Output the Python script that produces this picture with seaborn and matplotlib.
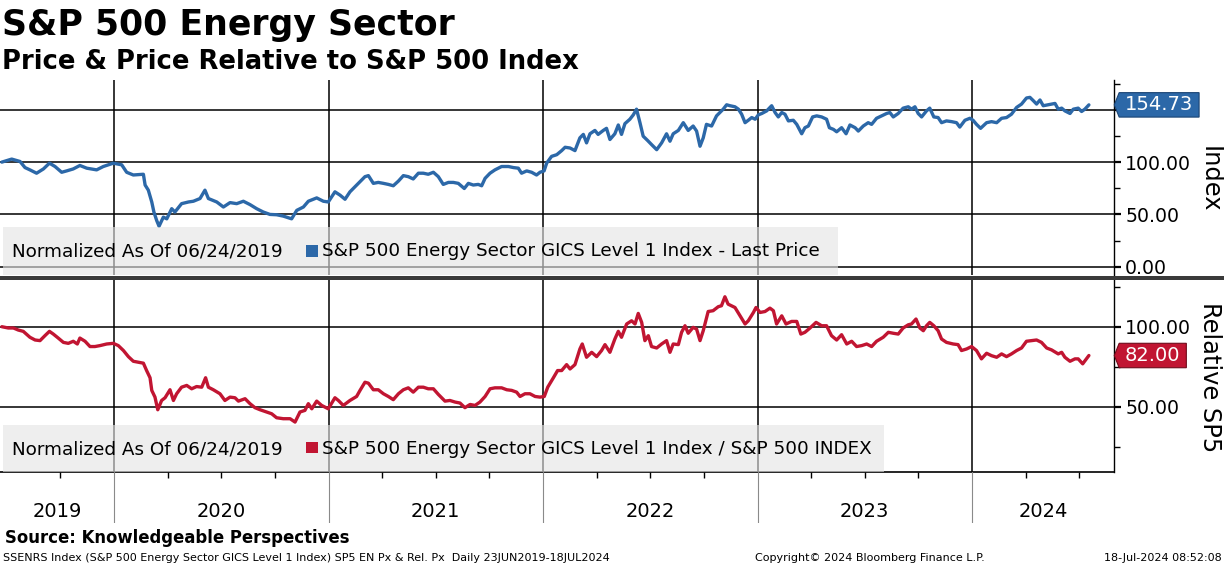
import matplotlib
matplotlib.use("Agg")
import matplotlib.pyplot as plt
from matplotlib.patches import Rectangle
from matplotlib.path import Path
from matplotlib.ticker import FixedLocator, FuncFormatter
import numpy as np
import pandas as pd
import seaborn as sns

# price series, normalized to 100 on 06/24/2019 (x in decimal years)
top_years = [
    2019.477, 2019.523, 2019.562, 2019.585, 2019.608, 2019.639, 2019.671, 2019.699, 2019.725, 2019.756,
    2019.779, 2019.810, 2019.841, 2019.873, 2019.919, 2019.950, 2019.997, 2020.036, 2020.059, 2020.090,
    2020.137, 2020.145, 2020.160, 2020.176, 2020.186, 2020.199, 2020.210, 2020.230, 2020.246, 2020.269,
    2020.284, 2020.315, 2020.347, 2020.370, 2020.401, 2020.424, 2020.440, 2020.479, 2020.510, 2020.541,
    2020.572, 2020.603, 2020.634, 2020.665, 2020.696, 2020.727, 2020.758, 2020.789, 2020.828, 2020.852,
    2020.883, 2020.906, 2020.945, 2020.976, 2020.999, 2021.030, 2021.054, 2021.077, 2021.100, 2021.139,
    2021.170,
    2021.186, 2021.209, 2021.232, 2021.256, 2021.279, 2021.302, 2021.326, 2021.349, 2021.372, 2021.395,
    2021.419, 2021.442, 2021.465, 2021.489, 2021.512, 2021.535, 2021.559, 2021.582, 2021.605, 2021.633,
    2021.652, 2021.675, 2021.698, 2021.714, 2021.730, 2021.753, 2021.776, 2021.807, 2021.839, 2021.862,
    2021.885, 2021.900, 2021.924, 2021.947, 2021.970, 2021.986, 2022.005, 2022.017, 2022.040, 2022.064,
    2022.087, 2022.103, 2022.126, 2022.149, 2022.172, 2022.188, 2022.203, 2022.219, 2022.242, 2022.257,
    2022.281, 2022.296, 2022.312, 2022.335, 2022.351, 2022.366, 2022.382, 2022.405, 2022.421, 2022.436,
    2022.452, 2022.467, 2022.488, 2022.506, 2022.530, 2022.553, 2022.576, 2022.592, 2022.607, 2022.631,
    2022.654, 2022.677, 2022.700, 2022.716, 2022.732, 2022.747, 2022.762, 2022.786, 2022.809, 2022.840,
    2022.856,
    2022.872, 2022.895, 2022.911, 2022.926, 2022.942, 2022.957, 2022.973, 2022.989, 2023.004, 2023.020,
    2023.043, 2023.066, 2023.082, 2023.097, 2023.113, 2023.128, 2023.144, 2023.167, 2023.183, 2023.206,
    2023.221, 2023.237, 2023.257, 2023.276, 2023.299, 2023.322, 2023.335, 2023.354, 2023.369, 2023.392,
    2023.413, 2023.431, 2023.455, 2023.470, 2023.493, 2023.516, 2023.532, 2023.555, 2023.579, 2023.602,
    2023.617, 2023.633, 2023.656, 2023.679, 2023.703, 2023.718, 2023.734, 2023.749, 2023.765, 2023.788,
    2023.803, 2023.822, 2023.842, 2023.858, 2023.881, 2023.905, 2023.928, 2023.943, 2023.967, 2023.990,
    2024.005, 2024.021, 2024.040, 2024.068, 2024.091, 2024.115, 2024.138, 2024.161, 2024.184, 2024.208,
    2024.231, 2024.254, 2024.270, 2024.286, 2024.301, 2024.317, 2024.332, 2024.355, 2024.371, 2024.387,
    2024.402, 2024.418, 2024.433, 2024.457, 2024.472, 2024.495, 2024.511, 2024.526, 2024.545,
]
top_vals = [
    100.0, 102.9, 100.6, 94.8, 92.6, 89.4, 93.5, 99.0, 95.8, 90.3,
    91.6, 93.5, 96.8, 94.2, 92.6, 95.8, 99.0, 97.4, 90.3, 87.7,
    88.4, 78.1, 73.2, 61.9, 52.3, 44.2, 38.7, 47.4, 45.8, 55.5,
    52.3, 60.3, 61.9, 62.6, 65.2, 73.2, 65.2, 61.9, 57.1, 61.3,
    60.3, 62.6, 59.4, 55.5, 52.3, 50.0, 49.7, 48.4, 45.8, 53.9,
    57.1, 62.6, 65.8, 62.6, 61.9, 71.6, 68.4, 64.5, 71.6, 79.7,
    86.1,
    87.1, 79.7, 80.6, 79.7, 78.7, 77.4, 81.9, 87.1, 86.1, 83.9,
    89.4, 89.4, 88.4, 90.3, 86.1, 78.7, 80.6, 80.6, 79.7, 74.8,
    79.7, 78.1, 78.7, 77.4, 84.5, 89.4, 92.6, 95.8, 95.8, 94.8,
    94.2, 89.4, 91.6, 90.3, 87.7, 90.3, 91.6, 99.0, 105.5, 107.1,
    111.0, 114.2, 113.5, 111.0, 123.2, 126.5, 118.4, 127.1, 130.3, 126.5,
    130.3, 132.3, 121.6, 127.1, 135.5, 126.5, 136.8, 141.0, 145.2, 150.6,
    137.7, 124.8, 120.6, 116.8, 111.9, 118.4, 127.1, 120.0, 127.1, 130.3,
    137.7, 130.3, 134.5, 129.7, 115.2, 123.2, 136.1, 134.5, 144.2, 150.6,
    154.8,
    153.9, 152.9, 150.6, 145.8, 137.7, 140.0, 142.6, 141.0, 145.2, 146.5,
    149.0, 153.9, 147.4, 143.2, 147.4, 145.8, 139.4, 140.0, 136.1, 127.1,
    132.9, 134.5, 143.2, 144.2, 143.2, 141.0, 132.9, 131.3, 129.0, 132.9,
    127.1, 135.5, 132.9, 129.7, 134.5, 137.7, 136.1, 141.9, 144.2, 146.5,
    147.4, 143.2, 146.5, 151.6, 152.9, 150.6, 152.9, 146.5, 143.2, 149.0,
    151.6, 143.2, 142.6, 137.7, 139.4, 138.7, 137.7, 133.5, 140.0, 141.9,
    140.0, 136.1, 132.3, 137.7, 138.7, 137.7, 141.9, 142.6, 145.8, 152.3,
    155.5, 161.3, 161.9, 158.7, 155.5, 159.4, 153.9, 154.8, 155.5, 156.1,
    150.6, 151.6, 149.0, 146.5, 150.6, 151.6, 148.4, 150.6, 154.73,
]

# price relative to S&P 500
rel_years = [
    2019.477, 2019.507, 2019.531, 2019.554, 2019.577, 2019.608, 2019.632, 2019.655, 2019.678, 2019.699,
    2019.717, 2019.740, 2019.764, 2019.787, 2019.810, 2019.829, 2019.841, 2019.865, 2019.888, 2019.911,
    2019.935, 2019.966, 2019.997, 2020.020, 2020.044, 2020.067, 2020.090, 2020.113, 2020.137, 2020.152,
    2020.168, 2020.176, 2020.191, 2020.204, 2020.222, 2020.238, 2020.261, 2020.277, 2020.292, 2020.315,
    2020.339, 2020.362, 2020.385, 2020.409, 2020.427, 2020.440, 2020.463, 2020.494, 2020.517, 2020.541,
    2020.564, 2020.580, 2020.611, 2020.634, 2020.657, 2020.681, 2020.712, 2020.735, 2020.758, 2020.789,
    2020.821, 2020.844, 2020.867, 2020.890, 2020.906, 2020.922, 2020.945, 2020.968, 2020.999, 2021.030,
    2021.046, 2021.069, 2021.100, 2021.131, 2021.147, 2021.170,
    2021.186, 2021.209, 2021.232, 2021.256, 2021.279, 2021.302, 2021.326, 2021.349, 2021.372, 2021.395,
    2021.419, 2021.442, 2021.465, 2021.489, 2021.512, 2021.543, 2021.566, 2021.590, 2021.613, 2021.636,
    2021.660, 2021.683, 2021.706, 2021.730, 2021.753, 2021.776, 2021.807, 2021.831, 2021.854, 2021.877,
    2021.893, 2021.916, 2021.939, 2021.963, 2021.986, 2022.006, 2022.022, 2022.048, 2022.068, 2022.087,
    2022.110, 2022.126, 2022.149, 2022.172, 2022.183, 2022.203, 2022.227, 2022.250, 2022.273, 2022.289,
    2022.312, 2022.335, 2022.351, 2022.366, 2022.390, 2022.413, 2022.429, 2022.444, 2022.460, 2022.475,
    2022.491, 2022.506, 2022.530, 2022.553, 2022.576, 2022.592, 2022.607, 2022.631, 2022.646, 2022.662,
    2022.677, 2022.700, 2022.716, 2022.732, 2022.747, 2022.770, 2022.793, 2022.817, 2022.832, 2022.848,
    2022.863,
    2022.895, 2022.919, 2022.942, 2022.957, 2022.981, 2022.993, 2023.012, 2023.035, 2023.058, 2023.074,
    2023.089, 2023.113, 2023.133, 2023.159, 2023.183, 2023.202, 2023.221, 2023.245, 2023.273, 2023.299,
    2023.322, 2023.345, 2023.369, 2023.392, 2023.416, 2023.439, 2023.462, 2023.486, 2023.509, 2023.532,
    2023.555, 2023.586, 2023.610, 2023.633, 2023.656, 2023.679, 2023.703, 2023.718, 2023.739, 2023.757,
    2023.773, 2023.788, 2023.803, 2023.822, 2023.842, 2023.858, 2023.881, 2023.912, 2023.935, 2023.951,
    2023.975, 2023.998, 2024.021, 2024.044, 2024.068, 2024.091, 2024.115, 2024.138, 2024.161, 2024.184,
    2024.208, 2024.231, 2024.254, 2024.278, 2024.301, 2024.324, 2024.348, 2024.371, 2024.402, 2024.418,
    2024.433, 2024.457, 2024.480, 2024.495, 2024.516, 2024.545,
]
rel_vals = [
    100.0, 99.2, 99.2, 97.9, 97.1, 93.4, 91.7, 91.3, 94.4, 97.1,
    95.4, 92.9, 90.2, 89.6, 90.9, 89.2, 92.9, 90.9, 87.6, 87.6,
    88.2, 89.2, 89.6, 88.2, 85.1, 81.3, 78.4, 77.8, 77.2, 72.6,
    68.1, 60.2, 56.0, 48.1, 53.9, 55.6, 60.6, 53.9, 58.1, 62.2,
    63.3, 61.2, 62.6, 62.2, 68.1, 62.2, 60.6, 58.1, 53.9, 56.0,
    55.6, 53.5, 55.0, 51.9, 49.4, 48.1, 46.7, 45.6, 43.1, 42.5,
    42.5, 40.4, 46.7, 47.7, 51.9, 48.7, 53.5, 50.8, 48.7, 55.6,
    53.9, 50.8, 53.9, 56.4, 60.2, 65.3,
    64.7, 60.6, 60.6, 58.1, 56.4, 54.4, 58.1, 60.6, 61.8, 59.1,
    62.2, 62.2, 61.2, 61.2, 57.7, 53.5, 53.9, 52.9, 52.3, 49.4,
    51.4, 50.8, 52.9, 56.4, 61.2, 61.8, 61.8, 60.6, 60.2, 59.1,
    56.4, 58.1, 58.1, 56.4, 56.0, 56.4, 62.2, 68.0, 72.6, 72.6,
    76.3, 73.6, 76.3, 86.1, 89.2, 80.9, 84.0, 81.3, 85.1, 88.8,
    84.0, 92.3, 97.1, 93.4, 101.7, 103.7, 101.7, 108.3, 102.7, 91.3,
    94.4, 87.6, 86.7, 89.2, 91.3, 84.0, 89.2, 88.8, 96.5, 100.6,
    95.9, 99.6, 98.5, 91.3, 97.5, 109.5, 110.0, 112.5, 113.1, 118.7,
    114.1,
    112.0, 106.8, 101.7, 103.7, 108.9, 112.0, 108.9, 109.5, 111.6, 110.0,
    101.7, 106.8, 101.7, 103.3, 103.3, 95.4, 96.5, 99.2, 102.7, 100.6,
    100.6, 94.4, 91.7, 95.0, 89.2, 90.9, 87.6, 88.2, 89.2, 87.6,
    90.9, 93.4, 96.5, 95.9, 95.4, 99.2, 101.2, 101.7, 104.8, 99.2,
    97.5, 100.6, 102.7, 100.6, 97.5, 92.3, 90.2, 89.2, 88.8, 85.1,
    86.1, 87.6, 85.1, 79.9, 83.4, 81.9, 80.9, 83.0, 81.3, 83.0,
    85.1, 86.7, 90.9, 91.3, 91.7, 90.2, 86.7, 85.5, 83.0, 84.0,
    80.9, 78.4, 79.9, 79.9, 76.8, 82.00,
]

year_edges = [2020, 2021, 2022, 2023, 2024]
year_labels = ["2019", "2020", "2021", "2022", "2023", "2024"]
top_grid = [0, 50, 100, 150]
top_labeled = [0, 50, 100]
top_minor = [25, 75, 125, 175]
rel_grid = [50, 100]
rel_minor = [25, 75, 125]

top_df = pd.DataFrame({"year": top_years, "value": top_vals})
rel_df = pd.DataFrame({"year": rel_years, "value": rel_vals})

sns.set_style("white")
plt.rcParams["font.family"] = ["DejaVu Sans"]
plt.rcParams["text.color"] = "black"
plt.rcParams["ytick.color"] = "black"
plt.rcParams["xtick.color"] = "black"

BLUE = "#2c68a8"
RED = "#c11532"
W, H = 1224, 566

fig = plt.figure(figsize=(12.24, 5.66), dpi=100)


def px_axes(left, top, right, bottom):
    return fig.add_axes([left / W, 1 - bottom / H, (right - left) / W, (bottom - top) / H])


ax1 = px_axes(0, 80, 1114, 275)
ax2 = px_axes(0, 279.5, 1114, 472)
ax3 = px_axes(0, 472, 1114, 523)

x_lo, x_hi = 2019.4685, 2024.662

sns.lineplot(data=top_df, x="year", y="value", ax=ax1, color=BLUE, linewidth=2.4,
             estimator=None, sort=False, legend=False)
sns.lineplot(data=rel_df, x="year", y="value", ax=ax2, color=RED, linewidth=2.4,
             estimator=None, sort=False, legend=False)


def style_panel(ax, grid, labeled, minor, ylim):
    ax.set_xlim(x_lo, x_hi)
    ax.set_ylim(*ylim)
    ax.xaxis.set_major_locator(FixedLocator(year_edges))
    ax.yaxis.set_major_locator(FixedLocator(grid))
    ax.yaxis.set_major_formatter(FuncFormatter(lambda v, _: f"{v:.2f}" if v in labeled else ""))
    ax.yaxis.set_minor_locator(FixedLocator(minor))
    ax.yaxis.tick_right()
    ax.grid(True, which="major", color="black", linewidth=1.1)
    ax.set_axisbelow(True)
    for s in ["left", "top", "bottom"]:
        ax.spines[s].set_visible(False)
    ax.spines["right"].set_color("black")
    ax.spines["right"].set_linewidth(1.0)
    ax.tick_params(axis="y", which="major", right=True, left=False, length=5, width=1.6,
                   labelsize=13.6, pad=3)
    ax.tick_params(axis="y", which="minor", right=True, left=False, length=4, width=1)
    ax.tick_params(axis="x", which="both", bottom=False, labelbottom=False)
    ax.set_xlabel("")
    ax.set_ylabel("")


style_panel(ax1, top_grid, top_labeled, top_minor, (-7.9, 178.5))
style_panel(ax2, rel_grid, rel_grid, rel_minor, (9.2, 129.5))

ax2.spines["bottom"].set_visible(True)
ax2.spines["bottom"].set_color("black")
ax2.spines["bottom"].set_linewidth(1.2)
quarters = [q for q in np.arange(2019.75, x_hi, 0.25) if q % 1 != 0]
ax2.xaxis.set_minor_locator(FixedLocator(quarters))
ax2.tick_params(axis="x", which="minor", bottom=True, length=4, width=1, direction="out")


# legends
def legend_box(ax, right_px, top_frac, text_y, sq_y, color, label):
    ax.add_patch(Rectangle((3 / 1114, 0), (right_px - 3) / 1114, top_frac, transform=ax.transAxes,
                           facecolor="#e4e4e4", alpha=0.62, edgecolor="none", zorder=3))
    ax.text(12 / 1114, text_y, "Normalized As Of 06/24/2019", transform=ax.transAxes,
            fontsize=13.2, va="center", zorder=4)
    ax.add_patch(Rectangle((306 / 1114, sq_y), 12 / 1114, 0.058, transform=ax.transAxes,
                           facecolor=color, edgecolor="none", zorder=4))
    ax.text(322 / 1114, text_y, label, transform=ax.transAxes, fontsize=13.2, va="center", zorder=4)


legend_box(ax1, 838, 0.246, 0.122, 0.094, BLUE,
           "S&P 500 Energy Sector GICS Level 1 Index - Last Price")
legend_box(ax2, 884, 0.244, 0.117, 0.097, RED,
           "S&P 500 Energy Sector GICS Level 1 Index / S&P 500 INDEX")


# last value tags on the right axis
def tag_shape(x0, y0, width, height, mutation_size):
    padx = 0.3 * mutation_size
    pady = 0.14 * mutation_size
    x0, x1 = x0 - padx, x0 + width + padx
    y0, y1 = y0 - pady, y0 + height + pady
    tip = 0.2 * (y1 - y0)
    verts = [(x0, y0), (x1, y0), (x1, y1), (x0, y1), (x0 - tip, (y0 + y1) / 2), (x0, y0)]
    return Path(verts, closed=True)


for ax, val, col, edge in [(ax1, top_vals[-1], BLUE, "#1a4474"), (ax2, rel_vals[-1], RED, "#6e0a1a")]:
    ax.annotate(f"{val:.2f}", xy=(1, val), xycoords=("axes fraction", "data"),
                xytext=(11, 0), textcoords="offset pixels", ha="left", va="center",
                color="white", fontsize=14, annotation_clip=False, zorder=6,
                bbox=dict(boxstyle=tag_shape, facecolor=col, edgecolor=edge, linewidth=0.8))

fig.text(1210 / W, 1 - 179 / H, "Index", rotation=270, fontsize=17.4, ha="center", va="center")
fig.text(1210 / W, 1 - 377 / H, "Relative SP5", rotation=270, fontsize=17.4, ha="center", va="center")

# year strip
ax3.set_xlim(x_lo, x_hi)
ax3.set_ylim(0, 1)
ax3.axis("off")
for e in year_edges:
    ax3.axvline(e, color="#8a8a8a", linewidth=0.8)
spans = [x_lo] + year_edges + [x_hi]
for i, lab in enumerate(year_labels):
    ax3.text((spans[i] + spans[i + 1]) / 2, 0.235, lab, ha="center", va="center", fontsize=14)

# panel divider
fig.add_artist(Rectangle((0, 1 - 279.5 / H), 1, 3.5 / H, transform=fig.transFigure,
                         facecolor="#3a3a3a", edgecolor="none"))

# titles and footer
fig.text(2 / W, 1 - 35 / H, "S&P 500 Energy Sector", fontsize=25, fontweight="bold", va="baseline")
fig.text(2 / W, 1 - 69 / H, "Price & Price Relative to S&P 500 Index", fontsize=18.6,
         fontweight="bold", va="baseline")
fig.text(5 / W, 1 - 543 / H, "Source: Knowledgeable Perspectives", fontsize=11.9,
         fontweight="bold", va="baseline")
fig.text(3 / W, 1 - 561 / H,
         "SSENRS Index (S&P 500 Energy Sector GICS Level 1 Index) SP5 EN Px & Rel. Px  Daily 23JUN2019-18JUL2024",
         fontsize=8, va="baseline")
fig.text(755 / W, 1 - 561 / H, "Copyright\u00a9 2024 Bloomberg Finance L.P.", fontsize=8, va="baseline")
fig.text(1222 / W, 1 - 561 / H, "18-Jul-2024 08:52:08", fontsize=8, ha="right", va="baseline")

fig.savefig("out.png", dpi=100)
